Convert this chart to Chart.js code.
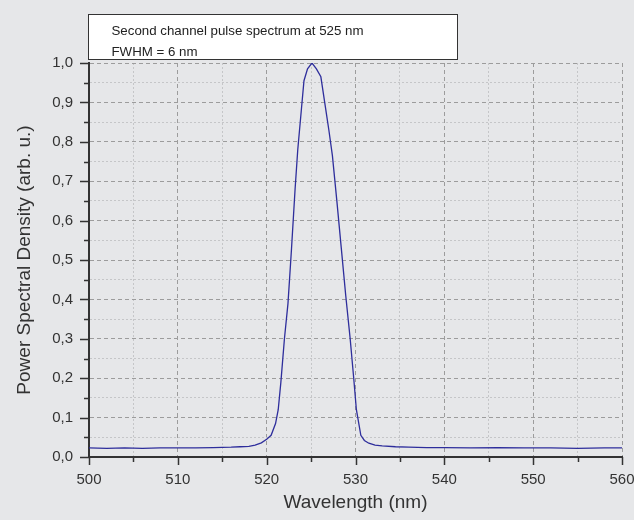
<!DOCTYPE html>
<html>
<head>
<meta charset="utf-8">
<script src="https://cdn.jsdelivr.net/npm/chart.js@4.4.1/dist/chart.umd.min.js"></script>
<style>
  html, body { margin: 0; padding: 0; background: #e6e7e9; }
  #wrap { width: 634px; height: 520px; }
</style>
</head>
<body>
<div id="wrap"><canvas id="chart"></canvas></div>
<script>
const wavelength = [
  500, 502, 504, 506, 508, 510, 512, 514, 516, 517, 518, 518.7, 519.4, 520, 520.5,
  521, 521.3, 521.6, 522, 522.4, 522.8, 523.2, 523.5, 523.9, 524.2, 524.6, 525.1,
  525.6, 526.1, 526.6, 527.0, 527.4, 527.9, 528.4, 528.9, 529.4, 529.8, 530.1,
  530.6, 531.0, 531.5, 532.2, 533, 534.5, 536, 538, 540, 543, 546, 549, 552, 555,
  558, 560
];
const psd = [
  0.023, 0.022, 0.023, 0.022, 0.023, 0.023, 0.023, 0.024, 0.025, 0.026, 0.027, 0.030,
  0.036, 0.045, 0.055, 0.085, 0.12, 0.19, 0.30, 0.39, 0.53, 0.68, 0.78, 0.88, 0.955,
  0.985, 1.0, 0.985, 0.965, 0.89, 0.83, 0.765, 0.65, 0.53, 0.41, 0.30, 0.20, 0.12,
  0.055, 0.042, 0.035, 0.030, 0.028, 0.026, 0.025, 0.024, 0.024, 0.023, 0.024, 0.023,
  0.023, 0.022, 0.023, 0.023
];
const xTicks = [500, 510, 520, 530, 540, 550, 560];
const yTicks = [0, 0.1, 0.2, 0.3, 0.4, 0.5, 0.6, 0.7, 0.8, 0.9, 1.0];
const legendLines = ["Second channel pulse spectrum at 525 nm", "FWHM = 6 nm"];

const FONT = "'Liberation Sans', Arial, sans-serif";
const isMajorX = (v) => Math.abs(v % 10) < 1e-6;
const isMajorY = (v) => Math.abs(Math.round(v * 100) % 10) === 0;

const gridColor = (major) => (major ? "#9c9c9c" : "#c5c6c8");
const gridDash = (major) => (major ? [4, 3] : [2, 2]);

// tick marks: long for major, short for minor, drawn outward
const tickMarks = {
  id: "tickMarks",
  afterDraw(chart) {
    const { ctx, scales } = chart;
    const xs = scales.x, ys = scales.y;
    ctx.save();
    ctx.strokeStyle = "#333";
    ctx.lineWidth = 1.5;
    ys.ticks.forEach((t) => {
      const y = Math.round(ys.getPixelForValue(t.value)) + 0.5;
      const len = isMajorY(t.value) ? 9 : 5;
      ctx.beginPath();
      ctx.moveTo(ys.right - len, y);
      ctx.lineTo(ys.right, y);
      ctx.stroke();
    });
    xs.ticks.forEach((t) => {
      const x = Math.round(xs.getPixelForValue(t.value)) + 0.5;
      const len = isMajorX(t.value) ? 8 : 5;
      ctx.beginPath();
      ctx.moveTo(x, xs.top);
      ctx.lineTo(x, xs.top + len);
      ctx.stroke();
    });
    ctx.restore();
  }
};

// text box above the plot
const infoBox = {
  id: "infoBox",
  afterDraw(chart) {
    const { ctx, chartArea } = chart;
    const left = chartArea.left - 0.5;
    const top = 14.5;
    ctx.save();
    ctx.fillStyle = "#ffffff";
    ctx.strokeStyle = "#333";
    ctx.lineWidth = 1;
    ctx.fillRect(left, top, 369, 45);
    ctx.strokeRect(left, top, 369, 45);
    ctx.fillStyle = "#222";
    ctx.font = "13.3px " + FONT;
    ctx.textBaseline = "alphabetic";
    ctx.fillText(legendLines[0], left + 23, 35);
    ctx.fillText(legendLines[1], left + 23, 55.5);
    ctx.restore();
  }
};

const points = wavelength.map((w, i) => ({ x: w, y: psd[i] }));

new Chart(document.getElementById("chart"), {
  type: "line",
  data: {
    datasets: [{
      data: points,
      borderColor: "#2e2e9c",
      borderWidth: 1.3,
      pointRadius: 0,
      tension: 0,
      fill: false
    }]
  },
  options: {
    responsive: true,
    maintainAspectRatio: false,
    animation: false,
    layout: { padding: { top: 63, right: 12, left: 0, bottom: 0 } },
    plugins: {
      legend: { display: false },
      tooltip: { enabled: false }
    },
    scales: {
      x: {
        type: "linear",
        min: 500,
        max: 560,
        afterFit: (s) => { s.height = 63; s.paddingLeft = 0; s.paddingRight = 0; },
        ticks: {
          stepSize: 5,
          autoSkip: false,
          maxRotation: 0,
          padding: 6,
          color: "#333",
          font: { family: FONT, size: 15 },
          callback: (v) => (xTicks.includes(v) ? String(v) : "")
        },
        grid: {
          color: (c) => (c.tick ? gridColor(isMajorX(c.tick.value)) : "#999"),
          lineWidth: 1,
          drawTicks: true,
          tickLength: 8,
          tickColor: "transparent"
        },
        border: {
          display: true,
          color: "#333",
          width: 2,
          dash: (c) => (c.tick ? gridDash(isMajorX(c.tick.value)) : [])
        },
        title: {
          display: true,
          text: "Wavelength (nm)",
          color: "#333",
          font: { family: FONT, size: 19 },
          padding: { top: 0, bottom: 6 }
        }
      },
      y: {
        type: "linear",
        min: 0,
        max: 1,
        afterFit: (s) => { s.width = 89; s.paddingTop = 0; s.paddingBottom = 0; },
        ticks: {
          stepSize: 0.05,
          autoSkip: false,
          padding: 7,
          color: "#333",
          font: { family: FONT, size: 15 },
          callback: (v) => {
            const hit = yTicks.find((t) => Math.abs(t - v) < 1e-6);
            return hit === undefined ? "" : hit.toFixed(1).replace(".", ",");
          }
        },
        grid: {
          color: (c) => (c.tick ? gridColor(isMajorY(c.tick.value)) : "#999"),
          lineWidth: 1,
          drawTicks: true,
          tickLength: 9,
          tickColor: "transparent"
        },
        border: {
          display: true,
          color: "#333",
          width: 2,
          dash: (c) => (c.tick ? gridDash(isMajorY(c.tick.value)) : [])
        },
        title: {
          display: true,
          text: "Power Spectral Density (arb. u.)",
          color: "#333",
          font: { family: FONT, size: 19 },
          padding: { top: 13, bottom: 0 }
        }
      }
    }
  },
  plugins: [tickMarks, infoBox]
});
</script>
</body>
</html>
